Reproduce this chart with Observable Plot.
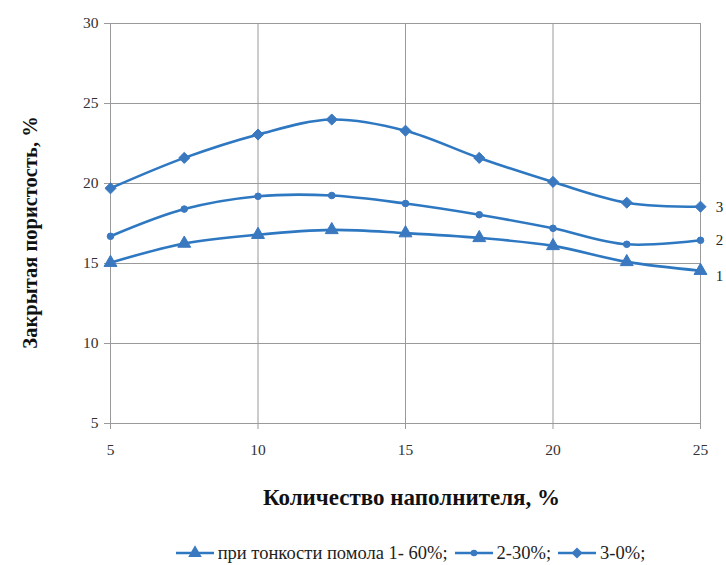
<!DOCTYPE html>
<html>
<head>
<meta charset="utf-8">
<script src="https://cdn.jsdelivr.net/npm/d3@7"></script>
<script src="https://cdn.jsdelivr.net/npm/@observablehq/plot@0.6"></script>
<style>
  html, body { margin: 0; padding: 0; background: #fff; }
  #chart { width: 726px; }
  #legend { display: flex; justify-content: center; align-items: center; gap: 6px; width: 726px; box-sizing: border-box;
            font-family: 'Liberation Serif'; font-size: 18.5px; color: #222; height: 26px; margin-top: 10px; padding-left: 94px; }
  .item { display: flex; align-items: center; gap: 3px; }
</style>
</head>
<body>
<div id="chart"></div>
<div id="legend"></div>
<script>
const fillerAmount = [5, 7.5, 10, 12.5, 15, 17.5, 20, 22.5, 25];
const series1 = [15.05, 16.25, 16.8, 17.1, 16.9, 16.6, 16.1, 15.1, 14.55];
const series2 = [16.7, 18.4, 19.2, 19.25, 18.75, 18.05, 17.2, 16.2, 16.45];
const series3 = [19.7, 21.6, 23.06, 24.0, 23.3, 21.6, 20.1, 18.8, 18.55];
const seriesNames = ["1", "2", "3"];
const legendLabels = ["при тонкости помола 1- 60%;", "2-30%;", "3-0%;"];
const xTicks = [5, 10, 15, 20, 25];
const yTicks = [5, 10, 15, 20, 25, 30];
const xTitle = "Количество наполнителя, %";
const yTitle = "Закрытая пористость, %";

const symbols = ["triangle", "circle", "diamond2"];
const sizes = [4.8, 3.3, 5];
const lineColor = "#2e78c2";
const markColor = "#3a78c0";
const fontFam = "Liberation Serif";

const all = [series1, series2, series3];
const rows = all.flatMap((s, i) => s.map((v, j) => ({x: fillerAmount[j], y: v, s: seriesNames[i], i})));

const marks = [
  Plot.gridX(xTicks, {stroke: "#9a9a9a", strokeOpacity: 1, strokeWidth: 1}),
  Plot.gridY(yTicks, {stroke: "#9a9a9a", strokeOpacity: 1, strokeWidth: 1}),
  Plot.axisX({ticks: xTicks, tickSize: 6, tickPadding: 14, label: null, stroke: "#9a9a9a", fill: "#333", fontSize: 15.5}),
  Plot.axisY({ticks: yTicks, tickSize: 6, tickPadding: 6, label: null, stroke: "#9a9a9a", fill: "#333", fontSize: 15.5}),
];
all.forEach((s, i) => {
  const d = rows.filter(r => r.i === i);
  marks.push(Plot.line(d, {x: "x", y: "y", curve: "catmull-rom", stroke: lineColor, strokeWidth: 2.6}));
  marks.push(Plot.dot(d, {x: "x", y: "y", symbol: () => symbols[i], r: sizes[i], fill: markColor, stroke: markColor, strokeWidth: 1}));
  const last = d[d.length - 1];
  marks.push(Plot.text([last], {x: "x", y: "y", text: "s", dx: 19, dy: i === 0 ? 5 : 0, textAnchor: "middle", fontSize: 15, fill: "#222"}));
});
marks.push(Plot.text([xTitle], {frameAnchor: "bottom", dy: 74, dx: 6, fontSize: 23, fontWeight: "bold", fill: "#111", lineAnchor: "middle", textAnchor: "middle"}));
marks.push(Plot.text([yTitle], {frameAnchor: "left", dx: -80, dy: 9, rotate: -90, fontSize: 20.5, fontWeight: "bold", fill: "#111", lineAnchor: "middle", textAnchor: "middle"}));

const chart = Plot.plot({
  width: 726, height: 530,
  marginLeft: 110, marginRight: 26, marginTop: 23, marginBottom: 107,
  x: {domain: [5, 25]},
  y: {domain: [5, 30]},
  style: {fontSize: "15px", color: "#333", background: "#fff"},
  marks
});
d3.select(chart).style("font-family", fontFam).attr("font-family", fontFam);
d3.select(chart).selectAll("g, text").attr("font-family", fontFam).style("font-family", fontFam);
document.getElementById("chart").appendChild(chart);

const legend = document.getElementById("legend");
legendLabels.forEach((lab, i) => {
  const item = document.createElement("div");
  item.className = "item";
  const svg = d3.create("svg").attr("width", 40).attr("height", 16);
  svg.append("line").attr("x1", 1).attr("x2", 39).attr("y1", 8).attr("y2", 8).attr("stroke", lineColor).attr("stroke-width", 2.6);
  svg.append("path").attr("transform", "translate(20,8)")
    .attr("d", d3.symbol(i === 0 ? d3.symbolTriangle : i === 1 ? d3.symbolCircle : d3.symbolDiamond2, i === 1 ? 34 : 80)())
    .attr("fill", markColor);
  item.appendChild(svg.node());
  const t = document.createElement("span");
  t.textContent = lab;
  t.style.fontFamily = fontFam;
  item.appendChild(t);
  legend.appendChild(item);
});
</script>
</body>
</html>
